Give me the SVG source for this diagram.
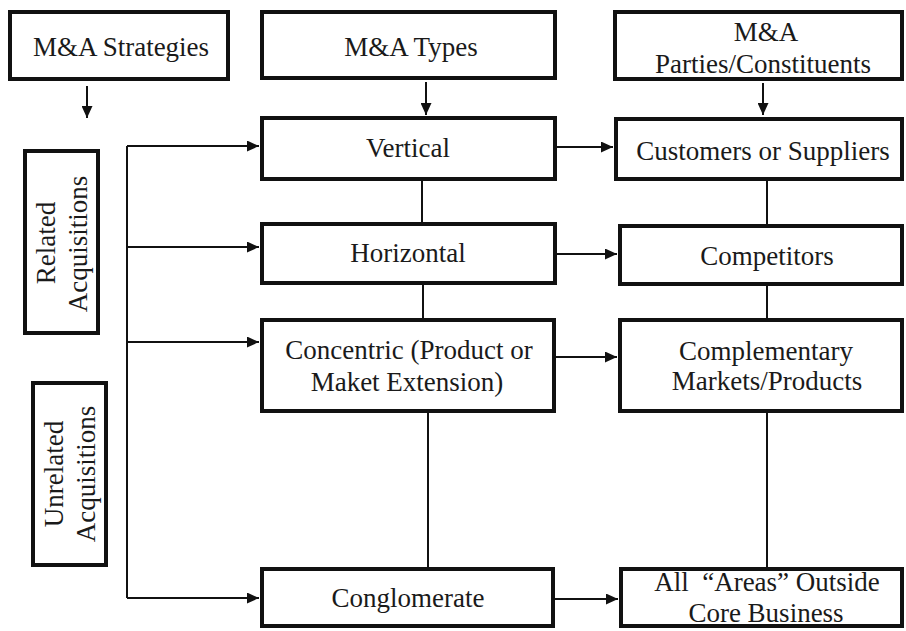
<svg xmlns="http://www.w3.org/2000/svg" width="906" height="631" viewBox="0 0 906 631">
  <defs>
    <marker id="arrow" viewBox="0 0 12 11" refX="12" refY="5.5" markerWidth="12" markerHeight="11" markerUnits="userSpaceOnUse" orient="auto">
      <path d="M0,0 L12,5.5 L0,11 z" fill="#111"/>
    </marker>
    <style>
      .box { fill: #fff; stroke: #111; stroke-width: 4; }
      .t { font-family: "Liberation Serif", serif; font-size: 27px; fill: #1a1a1a; text-anchor: middle; }
      .wire { fill: none; stroke: #111; stroke-width: 2; }
      .arr { fill: none; stroke: #111; stroke-width: 2; marker-end: url(#arrow); }
    </style>
  </defs>
  <rect width="906" height="631" fill="#fff"/>

  <!-- connectors -->
  <g id="connectors">
    <!-- header arrows -->
    <line class="arr" x1="87" y1="86" x2="87" y2="118"/>
    <line class="arr" x1="426" y1="82" x2="426" y2="115"/>
    <line class="arr" x1="763" y1="83" x2="763" y2="115"/>
    <!-- strategy bus -->
    <polyline class="wire" points="127,146 127,598"/>
    <line class="arr" x1="127" y1="146" x2="259" y2="146"/>
    <line class="arr" x1="127" y1="247" x2="259" y2="247"/>
    <line class="arr" x1="127" y1="342" x2="259" y2="342"/>
    <line class="arr" x1="127" y1="598" x2="259" y2="598"/>
    <!-- types to parties -->
    <line class="arr" x1="557" y1="147" x2="613" y2="147"/>
    <line class="arr" x1="557" y1="254" x2="617" y2="254"/>
    <line class="arr" x1="556" y1="357" x2="617" y2="357"/>
    <line class="arr" x1="555" y1="599" x2="618" y2="599"/>
    <!-- vertical links between type boxes -->
    <line class="wire" x1="422" y1="181" x2="422" y2="222"/>
    <line class="wire" x1="423" y1="285" x2="423" y2="318"/>
    <line class="wire" x1="428" y1="413" x2="428" y2="567"/>
    <!-- vertical links between party boxes -->
    <line class="wire" x1="767" y1="181" x2="767" y2="224"/>
    <line class="wire" x1="767" y1="286" x2="767" y2="318"/>
    <line class="wire" x1="767" y1="413" x2="767" y2="567"/>
  </g>

  <!-- column headers -->
  <g id="strategies">
    <rect class="box" x="10" y="12" width="218" height="67"/>
    <text class="t" style="font-family:'Liberation Serif',serif" x="121" y="56">M&amp;A Strategies</text>
  </g>
  <g id="types">
    <rect class="box" x="262" y="12" width="293" height="66"/>
    <text class="t" style="font-family:'Liberation Serif',serif" x="411" y="56">M&amp;A Types</text>
  </g>
  <g id="parties">
    <rect class="box" x="615" y="12" width="287" height="67"/>
    <text class="t" style="font-family:'Liberation Serif',serif" x="766" y="41">M&amp;A</text>
    <text class="t" style="font-family:'Liberation Serif',serif" x="763" y="73">Parties/Constituents</text>
  </g>

  <!-- strategy groups -->
  <g id="related">
    <rect class="box" x="25" y="151" width="73" height="182"/>
    <text class="t" style="font-family:'Liberation Serif',serif" transform="translate(55,243) rotate(-90)">Related</text>
    <text class="t" style="font-family:'Liberation Serif',serif" transform="translate(87,244) rotate(-90)">Acquisitions</text>
  </g>
  <g id="unrelated">
    <rect class="box" x="33" y="383" width="73" height="182"/>
    <text class="t" style="font-family:'Liberation Serif',serif" transform="translate(63,474) rotate(-90)">Unrelated</text>
    <text class="t" style="font-family:'Liberation Serif',serif" transform="translate(95,474) rotate(-90)">Acquisitions</text>
  </g>

  <!-- M&A types -->
  <g id="vertical">
    <rect class="box" x="262" y="118" width="293" height="61"/>
    <text class="t" style="font-family:'Liberation Serif',serif" x="408" y="157">Vertical</text>
  </g>
  <g id="horizontal">
    <rect class="box" x="262" y="224" width="293" height="59"/>
    <text class="t" style="font-family:'Liberation Serif',serif" x="408" y="262">Horizontal</text>
  </g>
  <g id="concentric">
    <rect class="box" x="262" y="320" width="292" height="91"/>
    <text class="t" style="font-family:'Liberation Serif',serif" x="409" y="359">Concentric (Product or</text>
    <text class="t" style="font-family:'Liberation Serif',serif" x="407" y="391">Maket Extension)</text>
  </g>
  <g id="conglomerate">
    <rect class="box" x="262" y="569" width="291" height="57"/>
    <text class="t" style="font-family:'Liberation Serif',serif" x="408" y="607">Conglomerate</text>
  </g>

  <!-- parties / constituents -->
  <g id="customers">
    <rect class="box" x="616" y="119" width="286" height="60"/>
    <text class="t" style="font-family:'Liberation Serif',serif" x="763" y="160">Customers or Suppliers</text>
  </g>
  <g id="competitors">
    <rect class="box" x="620" y="226" width="282" height="58"/>
    <text class="t" style="font-family:'Liberation Serif',serif" x="767" y="265">Competitors</text>
  </g>
  <g id="complementary">
    <rect class="box" x="620" y="320" width="282" height="91"/>
    <text class="t" style="font-family:'Liberation Serif',serif" x="766" y="360">Complementary</text>
    <text class="t" style="font-family:'Liberation Serif',serif" x="767" y="390">Markets/Products</text>
  </g>
  <g id="outside">
    <rect class="box" x="621" y="569" width="281" height="57"/>
    <text class="t" style="font-family:'Liberation Serif',serif" x="767" y="591">All&#160; &#8220;Areas&#8221; Outside</text>
    <text class="t" style="font-family:'Liberation Serif',serif" x="766" y="622">Core Business</text>
  </g>
</svg>
